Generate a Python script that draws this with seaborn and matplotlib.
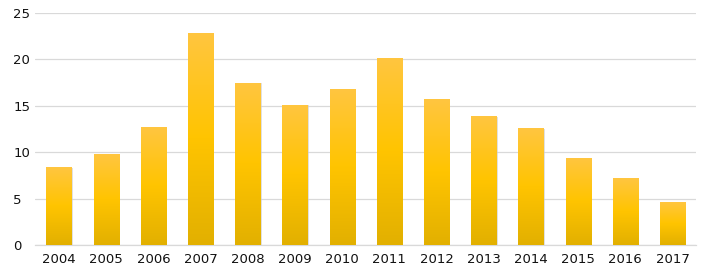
import numpy as np
import pandas as pd
import matplotlib
matplotlib.use("Agg")
import matplotlib.pyplot as plt
import seaborn as sns
from matplotlib.colors import LinearSegmentedColormap

years = ["2004", "2005", "2006", "2007", "2008", "2009", "2010",
         "2011", "2012", "2013", "2014", "2015", "2016", "2017"]
values = [8.4, 9.8, 12.7, 22.9, 17.5, 15.1, 16.8,
          20.2, 15.7, 13.9, 12.6, 9.4, 7.2, 4.6]
yticks = [0, 5, 10, 15, 20, 25]

sns.set_theme(style="white")
plt.rcParams['font.family'] = ['DejaVu Sans']

df = pd.DataFrame({"year": years, "value": values})

fig = plt.figure(figsize=(7.11, 2.78), dpi=100)
ax = fig.add_axes([0.0498, 0.1187, 0.9292, 0.8343])

sns.barplot(data=df, x="year", y="value", color="#FFC000", width=0.53,
            ax=ax, saturation=1, edgecolor="none", zorder=3)

ax.set_ylim(0, 25)
ax.set_xlim(-0.5, len(years) - 0.5)
ax.set_yticks(yticks)
ax.set_yticklabels([str(t) for t in yticks])
ax.yaxis.grid(True, color="#d9d9d9", linewidth=0.9, zorder=0)
ax.set_axisbelow(True)
for s in ["top", "right", "left"]:
    ax.spines[s].set_visible(False)
ax.spines["bottom"].set_color("#d9d9d9")
ax.spines["bottom"].set_linewidth(0.9)
ax.set_xlabel("")
ax.set_ylabel("")
ax.tick_params(axis="both", length=0, labelsize=9.5, colors="#111111")
ax.tick_params(axis="y", pad=16)
ax.tick_params(axis="x", pad=6)
for lab in ax.get_yticklabels():
    lab.set_horizontalalignment("left")

cmap = LinearSegmentedColormap.from_list(
    "g", [(0, "#E2B000"), (0.5, "#FFC400"), (1, "#FFC640")])
grad = np.linspace(0, 1, 256).reshape(-1, 1)

for p in list(ax.patches):
    x0 = p.get_x(); w = p.get_width(); h = p.get_height()
    # subtle shadow
    sh = plt.Rectangle((x0 + 0.03, 0), w, h - 0.05, color="#cccccc",
                       alpha=0.6, zorder=2, linewidth=0)
    ax.add_patch(sh)
    im = ax.imshow(grad, extent=[x0, x0 + w, 0, h], origin="lower",
                   cmap=cmap, aspect="auto", zorder=4)
    im.set_clip_path(p)

ax.set_xlim(-0.5, len(years) - 0.5)
ax.set_ylim(0, 25)

fig.savefig("out.png", dpi=100)
